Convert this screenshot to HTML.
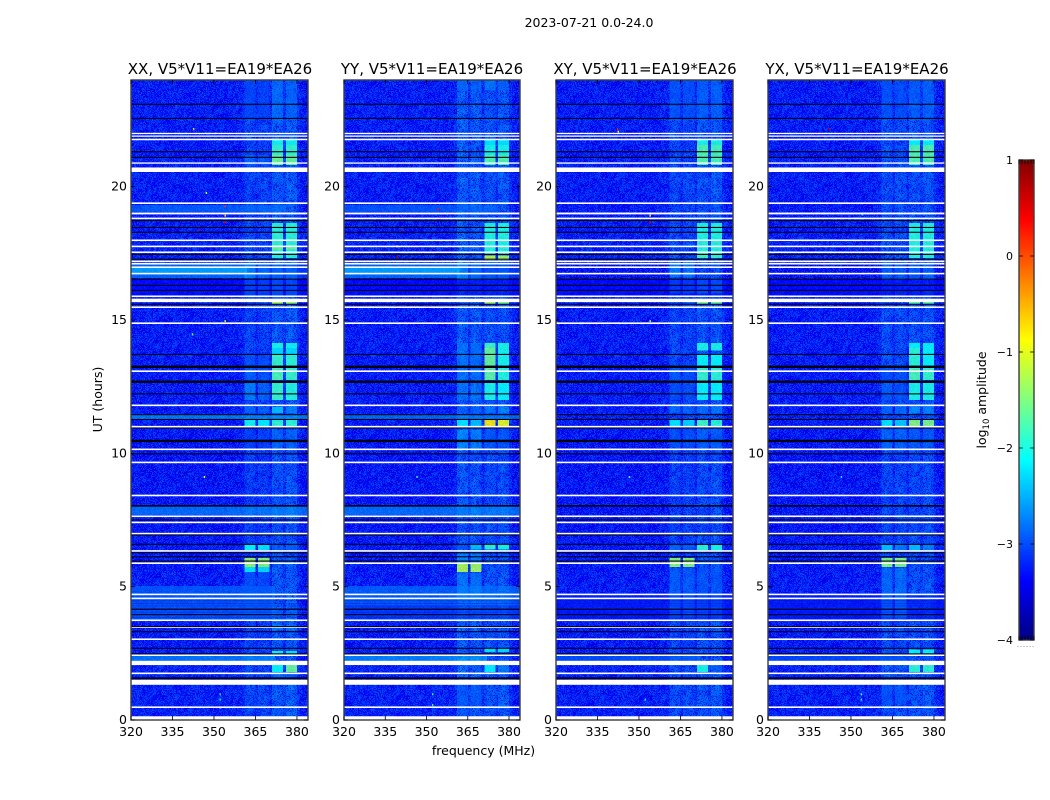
<!DOCTYPE html>
<html lang="en">
<head>
<meta charset="utf-8">
<title>2023-07-21 0.0-24.0</title>
<style>
html,body{margin:0;padding:0;background:#fff;}
svg{display:block;}
text{font-family:"DejaVu Sans","Liberation Sans",sans-serif;fill:#000;}
</style>
</head>
<body>
<svg id="figure" xmlns="http://www.w3.org/2000/svg" width="1050" height="800" viewBox="0 0 1050 800">
  <defs id="defs">
    <linearGradient id="jetGradient" x1="0" y1="1" x2="0" y2="0"></linearGradient>
    <pattern id="speckleTile" patternUnits="userSpaceOnUse" x="0" y="0" width="61" height="59"></pattern>
    <pattern id="mottleTile" patternUnits="userSpaceOnUse" x="0" y="0" width="53" height="47"></pattern>
  </defs>
  <text x="589" y="27" font-size="12.5" text-anchor="middle">2023-07-21 0.0-24.0</text>
  <text x="220" y="74" font-size="15" text-anchor="middle">XX, V5*V11=EA19*EA26</text>
  <text x="432" y="74" font-size="15" text-anchor="middle">YY, V5*V11=EA19*EA26</text>
  <text x="645" y="74" font-size="15" text-anchor="middle">XY, V5*V11=EA19*EA26</text>
  <text x="857" y="74" font-size="15" text-anchor="middle">YX, V5*V11=EA19*EA26</text>
  <g id="panel-0"></g>
  <g id="panel-1"></g>
  <g id="panel-2"></g>
  <g id="panel-3"></g>
  <text transform="translate(102,399.5) rotate(-90)" font-size="12.5" text-anchor="middle">UT (hours)</text>
  <text x="483.5" y="755" font-size="12.5" text-anchor="middle">frequency (MHz)</text>
  <g id="colorbar"></g>
  <text transform="translate(986,400) rotate(-90)" font-size="12.5" text-anchor="middle">log<tspan font-size="8.5" dy="3">10</tspan><tspan dy="-3"> amplitude</tspan></text>
</svg>
<script>
// ---- chart values ----
const freqTicks = [320, 335, 350, 365, 380];
const hourTicks = [0, 5, 10, 15, 20];
const colorbarTicks = [-4, -3, -2, -1, 0, 1];

// quiet-time spectrum, log10 amplitude per 1 MHz channel (320..383 MHz)
const spectrumXX = [-3.3,-3.3,-3.28,-3.3,-3.32,-3.3,-3.28,-3.3,-3.3,-3.3,-3.28,-3.3,-3.3,-3.32,-3.3,-3.28,-3.3,-3.3,-3.28,-3.3,-3.3,-3.32,-3.3,-3.3,-3.28,-3.3,-3.3,-3.3,-3.28,-3.3,-3.32,-3.3,-3.27,-3.3,-3.3,-3.28,-3.3,-3.28,-3.28,-3.26,-3.24,-3.05,-3.02,-3.05,-3.08,-3.2,-3.08,-3.05,-3.02,-3.08,-3.18,-2.92,-2.88,-2.92,-2.95,-3.08,-2.9,-2.86,-2.88,-2.92,-3.15,-3.28,-3.32,-3.35];
const spectrumYY = [-3.28,-3.3,-3.28,-3.3,-3.3,-3.3,-3.28,-3.3,-3.3,-3.28,-3.28,-3.3,-3.3,-3.3,-3.3,-3.28,-3.3,-3.3,-3.28,-3.3,-3.3,-3.3,-3.3,-3.3,-3.28,-3.3,-3.3,-3.3,-3.28,-3.3,-3.3,-3.3,-3.27,-3.3,-3.3,-3.28,-3.3,-3.28,-3.28,-3.26,-3.2,-2.88,-2.84,-2.88,-2.92,-3.12,-2.92,-2.88,-2.9,-2.95,-3.16,-2.98,-2.92,-2.95,-2.98,-3.1,-2.95,-2.9,-2.92,-2.96,-3.18,-3.28,-3.32,-3.35];
const spectrumXY = [-3.3,-3.3,-3.3,-3.3,-3.32,-3.3,-3.3,-3.3,-3.3,-3.3,-3.3,-3.3,-3.3,-3.32,-3.3,-3.3,-3.3,-3.3,-3.3,-3.3,-3.3,-3.32,-3.3,-3.3,-3.3,-3.3,-3.3,-3.3,-3.3,-3.3,-3.32,-3.3,-3.28,-3.3,-3.3,-3.3,-3.3,-3.28,-3.28,-3.26,-3.24,-3.02,-2.98,-3.02,-3.06,-3.2,-3.06,-3.02,-3.02,-3.06,-3.18,-2.95,-2.9,-2.95,-2.98,-3.1,-2.95,-2.9,-2.92,-2.96,-3.18,-3.28,-3.32,-3.35];
const spectrumYX = [-3.3,-3.3,-3.3,-3.3,-3.32,-3.3,-3.3,-3.3,-3.3,-3.3,-3.3,-3.3,-3.3,-3.32,-3.3,-3.3,-3.3,-3.3,-3.3,-3.3,-3.3,-3.32,-3.3,-3.3,-3.3,-3.3,-3.3,-3.3,-3.3,-3.3,-3.32,-3.3,-3.28,-3.3,-3.3,-3.3,-3.3,-3.28,-3.28,-3.26,-3.22,-2.98,-2.95,-2.98,-3.02,-3.18,-3.0,-2.96,-2.98,-3.02,-3.16,-2.98,-2.92,-2.96,-3.0,-3.1,-2.96,-2.92,-2.94,-2.98,-3.18,-3.28,-3.32,-3.35];

// broad level offset per UT hour (0..23)
const hourlyOffset = [0.03,0.05,0.0,0.0,0.02,0.0,-0.02,-0.04,-0.04,-0.05,-0.03,0.0,0.0,0.0,0.0,0.0,-0.08,0.03,0.0,0.0,0.02,0.0,0.02,0.0];

// cell-to-cell scatter table (log10 amplitude)
const scatter = [0.12,-0.08,0.2,-0.15,0.03,0.17,-0.2,0.07,-0.05,0.22,-0.12,0.01,0.15,-0.18,0.09,-0.03,0.19,-0.1,0.05,-0.22,0.14,0.0,-0.14,0.21,-0.06,0.08,-0.17,0.11,0.02,-0.09,0.18,-0.21,0.06,0.13,-0.04,-0.16,0.23,-0.07,0.1,-0.19,0.04,0.16,-0.11,-0.01,0.2,-0.13,0.07,-0.23,0.12,0.03,-0.08,0.17,-0.15,0.09,-0.02,0.21,-0.2,0.05,0.14,-0.06,-0.12,0.19,0.01,-0.17,0.11,-0.04,0.24,-0.1,0.06,-0.18,0.15,-0.03,0.08,-0.14,0.22,-0.07,0.02,-0.21,0.13,0.1,-0.16,0.18,-0.05,0.04,-0.11,0.2,-0.19,0.07,0.16,-0.09,-0.02,0.12,-0.24,0.09,0.03,-0.13,0.17];

// flagged (blank) integrations, start and end hour
const flaggedStart = [21.97,21.87,21.74,20.86,20.55,19.35,18.96,18.78,17.96,17.73,17.51,17.17,17.08,16.95,16.71,15.86,15.67,15.45,14.85,13.05,11.77,10.97,10.12,9.63,8.39,7.61,7.38,6.96,6.31,5.85,4.68,4.53,3.71,3.45,3.0,2.4,2.06,1.72,1.32,0.45];
const flaggedEnd = [22.02,21.92,21.8,20.91,20.72,19.41,19.03,18.84,18.02,17.79,17.57,17.23,17.14,17.01,16.77,15.92,15.8,15.51,14.91,13.11,11.83,11.03,10.18,9.69,8.45,7.67,7.44,7.02,6.37,5.91,4.74,4.59,3.77,3.51,3.06,2.46,2.22,1.78,1.51,0.51];

// dropped-out (black) integrations, start and end hour
const dropoutStart = [23.07,22.54,21.29,21.08,18.71,18.45,18.27,17.44,17.26,16.51,16.28,16.09,15.57,13.69,13.2,12.64,12.21,11.43,11.25,10.93,10.42,9.96,8.0,7.48,6.92,6.57,6.25,6.1,5.94,4.13,3.93,3.48,3.29,2.67,2.46,1.53];
const dropoutEnd = [23.11,22.58,21.33,21.12,18.75,18.49,18.31,17.48,17.3,16.55,16.32,16.13,15.61,13.73,13.29,12.73,12.25,11.47,11.29,10.97,10.51,10.0,8.06,7.52,6.96,6.61,6.29,6.14,5.98,4.17,3.97,3.52,3.33,2.71,2.5,1.6];

// faint darker striping inside the 4-5 hour interval
const stripeHours = [4.49,4.39,4.3,4.2,4.06,3.87];

// sub-band lower edges in MHz and their width
const subbandStart = [361,366,371,376];
const subbandWidth = 4;

// broadband interference: start hour, end hour, level, low MHz, high MHz
const washXX = [[19.05,19.31,-2.75,320,376],[16.58,17.14,-2.65,320,362],[16.76,16.99,-2.4,320,362],[16.58,17.14,-3.0,362,384],[7.69,8.03,-2.6,320,384],[11.25,11.48,-2.5,320,384],[3.75,5.03,-2.8,320,372],[2.21,2.44,-2.55,320,372],[15.9,16.5,-3.38,320,384]];
const washYY = [[19.05,19.31,-2.8,320,376],[16.58,17.14,-2.65,320,362],[16.76,16.99,-2.4,320,362],[16.58,17.14,-3.0,362,384],[7.69,8.03,-2.6,320,384],[11.25,11.48,-2.65,320,384],[4.3,5.03,-2.75,320,384],[3.75,4.3,-3.0,320,384],[2.21,2.44,-2.45,320,372],[15.9,16.5,-3.38,320,384]];
const washXY = [[3.7,4.7,-3.25,320,384],[2.21,2.44,-2.85,320,372],[15.9,16.5,-3.38,320,384]];
const washYX = [[3.7,4.7,-3.25,320,384],[2.21,2.44,-2.9,320,372],[15.9,16.5,-3.38,320,384]];

// band activity: start hour, end hour, then level in each of the four sub-bands
const activityXX = [[22.5,24,-3.0,-3.05,-2.75,-2.85],[21.56,21.75,null,null,-2.05,-2.05],[21.19,21.56,null,null,-1.85,-1.85],[20.81,21.19,-2.75,-2.8,-1.55,-1.6],[17.81,18.64,null,null,-1.9,-1.9],[17.62,17.81,null,null,-1.6,-1.65],[17.33,17.62,null,null,-1.95,-1.95],[16.58,17.14,-2.5,-2.7,-2.8,-2.8],[15.9,16.5,-2.85,-2.9,-2.8,-2.85],[15.6,15.68,null,null,-1.3,-1.35],[13.95,14.14,null,null,-2.0,-2.05],[13.69,13.95,null,null,-2.25,-2.25],[13.24,13.69,-2.95,-2.95,-1.85,-1.9],[12.75,13.24,-2.8,-2.9,-1.75,-1.85],[12.0,12.64,-2.5,-2.75,-1.85,-1.95],[11.51,11.74,-2.65,-2.8,-2.4,-2.55],[11.03,11.25,-2.05,-2.15,-1.9,-1.9],[10.13,10.88,-3.05,-3.05,-2.8,-2.8],[6.38,6.56,-2.1,-2.2,-2.9,-2.9],[5.74,6.08,-1.35,-1.4,null,null],[5.55,5.74,-2.2,-2.25,null,null],[3.75,5.55,-2.95,-3.0,null,null],[3.9,4.1,null,null,-2.7,-2.7],[3.38,3.56,null,null,-2.6,-2.7],[2.44,2.59,null,null,-2.05,-2.2],[1.8,2.06,null,null,-2.1,-1.6],[1.5,1.75,null,null,-2.8,-2.95]];
const activityYY = [[23.6,24,-2.8,-2.85,-2.6,-2.85],[21.56,21.75,null,null,-2.2,-2.2],[21.19,21.56,null,null,-2.0,-2.0],[20.81,21.19,null,null,-1.7,-1.7],[17.45,18.64,null,null,-1.95,-1.95],[17.25,17.42,null,null,-1.2,-1.3],[16.5,17.14,-2.5,-2.7,-2.9,-2.9],[15.6,15.7,null,null,-1.3,-1.5],[13.95,14.14,-2.7,-2.7,-1.8,-2.0],[13.24,13.95,-2.7,-2.7,-1.6,-2.0],[12.75,13.24,-2.7,-2.7,-1.65,-1.95],[12.0,12.64,-2.7,-2.7,-2.0,-2.1],[11.51,11.74,-2.85,-2.85,-2.55,-2.55],[11.03,11.25,-2.2,-2.4,-0.8,-0.95],[10.1,10.88,-2.5,-2.55,-2.9,-2.9],[6.4,6.58,-3.0,-2.4,-1.9,-2.0],[5.88,6.25,-2.55,-2.55,null,null],[5.55,5.88,-1.25,-1.3,null,null],[4.6,5.5,-2.7,-2.7,null,null],[2.55,2.7,null,null,-2.2,-2.25],[1.8,2.06,null,null,-2.15,-2.6],[0.5,1.3,-2.95,-2.95,null,null]];
const activityXY = [[22.5,24,-2.9,-2.95,-2.85,-2.85],[21.56,21.75,null,null,-2.0,-2.0],[20.81,21.56,null,null,-1.7,-1.75],[17.33,17.6,null,null,-1.8,-1.85],[17.6,18.64,null,null,-1.95,-1.95],[16.6,17.15,-2.45,-2.55,null,null],[16.0,16.5,-2.95,-2.95,-2.8,-2.8],[15.6,15.7,null,null,-1.5,-1.6],[13.86,14.14,null,null,-2.0,-2.0],[13.24,13.73,null,null,-2.1,-2.1],[12.7,13.24,-2.85,-2.95,-1.85,-1.9],[12.0,12.7,-2.95,-2.95,-2.1,-2.1],[11.51,11.75,-2.75,-2.75,-2.65,-2.65],[11.03,11.25,-2.2,-2.3,-1.8,-1.9],[10.1,10.9,-2.9,-2.9,-2.85,-2.85],[6.38,6.56,-2.75,-2.75,-1.9,-2.0],[5.74,6.08,-1.4,-1.4,null,null],[3.8,5.7,-2.85,-2.85,-2.95,-2.95],[1.8,2.06,null,null,-2.0,-2.9]];
const activityYX = [[22.5,24,-2.95,-3.0,-2.85,-2.85],[21.56,21.75,null,null,-2.1,-2.1],[20.81,21.56,null,null,-1.7,-1.7],[17.33,18.64,null,null,-1.95,-1.95],[16.5,17.14,-2.8,-2.85,-2.8,-2.8],[15.6,15.7,null,null,-1.7,-1.7],[13.95,14.14,null,null,-2.1,-2.1],[13.24,13.95,null,null,-1.9,-2.1],[12.75,13.24,-2.95,-2.95,-1.75,-1.85],[12.0,12.64,-2.85,-2.95,-2.0,-2.0],[11.5,11.75,-2.75,-2.75,-2.45,-2.55],[11.03,11.25,-2.2,-2.35,-1.45,-1.5],[10.1,10.9,-2.75,-2.75,-2.85,-2.85],[6.38,6.56,-2.4,-2.5,-2.4,-2.5],[5.74,6.08,-1.45,-1.45,null,null],[3.8,5.7,-2.75,-2.7,null,null],[2.5,2.65,null,null,-2.1,-2.1],[1.8,2.06,null,null,-1.9,-1.9],[0.6,1.3,-2.95,-2.95,null,null]];

// isolated hot channels: MHz, hour, level
const hotXX = [[342.4,22.2,-0.6],[353.8,19.3,0.1],[353.8,18.95,-0.8],[353.8,18.7,0.4],[347,19.8,-1.3],[344.5,18.4,0.7],[346.3,9.15,-1.0],[342,14.5,-1.7],[352,1.0,-2.1],[352,0.5,-2.1],[352,0.8,-2.2],[353.8,15.0,-1.3]];
const hotYY = [[339,17.4,0.7],[339,17.8,-0.5],[346.3,9.15,-1.9],[354,19.2,0.3],[352,1.0,-2.0],[352,0.6,-1.9],[341,18.4,0.6]];
const hotXY = [[342,22.2,0.2],[342.3,22.1,-1.0],[353.8,18.95,-0.8],[353.8,18.7,0.4],[346.3,9.15,-1.7],[353.8,15.0,-1.5],[352,0.8,-2.1]];
const hotYX = [[342,22.2,0.5],[346.3,9.15,-2.0],[353.5,0.8,-2.0],[353.5,1.0,-1.7],[353.5,0.5,-2.0],[353.8,19.0,-2.0]];

// ---- chart wiring ----
const spectra = [spectrumXX, spectrumYY, spectrumXY, spectrumYX];
const washes = [washXX, washYY, washXY, washYX];
const activities = [activityXX, activityYY, activityXY, activityYX];
const hots = [hotXX, hotYY, hotXY, hotYX];
const panelLeft = [131, 344, 556, 768];
const panelWide = [177, 176, 177, 177];
const svgNS = 'http://www.w3.org/2000/svg';
const plotTop = 80, plotBottom = 720, hourSpan = 24, freqLow = 320, freqSpan = 64;
const firstHour = 0.14, rowHours = 0.2;

function yScale(h) { return plotBottom - h / hourSpan * (plotBottom - plotTop); }
function xScale(p, f) { return panelLeft[p] + (f - freqLow) / freqSpan * panelWide[p]; }
function cbScale(v) { return 640 - (v + 4) / 5 * 480; }
function clamp(c) { return Math.max(0, Math.min(1, c)); }
function jet(level) {
  const v = (level + 4) / 5;
  const r = clamp(Math.min(4 * v - 1.5, -4 * v + 4.5));
  const g = clamp(Math.min(4 * v - 0.5, -4 * v + 3.5));
  const b = clamp(Math.min(4 * v + 0.5, -4 * v + 2.5));
  return 'rgb(' + Math.round(r * 255) + ',' + Math.round(g * 255) + ',' + Math.round(b * 255) + ')';
}
function make(tag, parent, attrs) {
  const el = document.createElementNS(svgNS, tag);
  for (const k in attrs) el.setAttribute(k, attrs[k]);
  parent.appendChild(el);
  return el;
}

// fine-grain texture tiles
const tile = document.getElementById('speckleTile');
for (let j = 0; j < 59; j++) {
  for (let i = 0; i < 61; i++) {
    const s = scatter[(i * 13 + j * 29 + i * j) % scatter.length];
    if (Math.abs(s) < 0.06) continue;
    make('rect', tile, { x: i, y: j, width: 1, height: 1, fill: s > 0 ? '#0a5cff' : '#0000c8', 'fill-opacity': Math.min(0.7, Math.abs(s) * 3) });
  }
}
const mottle = document.getElementById('mottleTile');
for (let j = 0; j < 47; j++) {
  for (let i = 0; i < 53; i++) {
    const s = scatter[(i * 19 + j * 37 + i * j * 3) % scatter.length];
    if (Math.abs(s) < 0.1) continue;
    make('rect', mottle, { x: i, y: j, width: 1, height: 1, fill: s > 0 ? '#1060ff' : '#0000a0', 'fill-opacity': s > 0 ? s * 0.7 : -s * 0.7 });
  }
}

function drawPanel(p) {
  const root = document.getElementById('panel-' + p);
  const left = panelLeft[p], wide = panelWide[p];

  const cells = make('g', root, { 'shape-rendering': 'crispEdges' });
  
  
  const spectrum = spectra[p];
  const rowCount = Math.ceil((hourSpan - firstHour) / rowHours);
  for (let r = 0; r < rowCount; r++) {
    const h0 = firstHour + r * rowHours;
    const h1 = Math.min(hourSpan, h0 + rowHours);
    const off = hourlyOffset[Math.floor(h0) % hourlyOffset.length];
    const top = yScale(h1), bottom = yScale(h0);
    for (let c = 0; c < spectrum.length; c++) {
      const level = spectrum[c] + off + scatter[(r * 31 + c * 17 + p * 7) % scatter.length] * 0.55;
      const x0 = xScale(p, freqLow + c), x1 = xScale(p, freqLow + c + 1);
      const cell = make('rect', cells, { x: x0.toFixed(2), y: top.toFixed(2), width: (x1 - x0 + 0.4).toFixed(2), height: (bottom - top + 0.4).toFixed(2), fill: jet(level) });
      
      
    }
  }

  const grain = make('rect', root, { x: left, y: plotTop, width: wide, height: yScale(firstHour) - plotTop, fill: 'url(#speckleTile)' });
  
  

  const bands = make('g', root, { 'shape-rendering': 'crispEdges' });
  
  
  washes[p].forEach(function (w) {
    const x0 = xScale(p, w[3]), x1 = xScale(p, w[4]);
    const band = make('rect', bands, { x: x0, y: yScale(w[1]), width: x1 - x0, height: yScale(w[0]) - yScale(w[1]), fill: jet(w[2]), 'fill-opacity': 0.6 });
    
    
  });
  activities[p].forEach(function (a) {
    subbandStart.forEach(function (f, s) {
      const level = a[2 + s];
      if (level === null) return;
      const x0 = xScale(p, f), x1 = xScale(p, f + subbandWidth);
      const block = make('rect', bands, { x: x0, y: yScale(a[1]), width: x1 - x0, height: yScale(a[0]) - yScale(a[1]), fill: jet(level), 'fill-opacity': level < -2.4 ? 0.5 : 0.92 });
      
      
    });
  });

  const mottling = make('rect', root, { x: left, y: plotTop, width: wide, height: yScale(firstHour) - plotTop, fill: 'url(#mottleTile)', 'fill-opacity': 0.55 });
  
  

  const lines = make('g', root, {});
  
  
  stripeHours.forEach(function (h) {
    const stripe = make('rect', lines, { x: left, y: yScale(h), width: wide, height: 1, fill: '#0008c8', 'fill-opacity': 0.35 });
    
    
  });
  hots[p].forEach(function (d) {
    const dot = make('rect', lines, { x: xScale(p, d[0]), y: yScale(d[1]), width: 1.4, height: 2, fill: jet(d[2]) });
    
    
  });
  flaggedStart.forEach(function (h, i) {
    const row = make('rect', lines, { x: left, y: yScale(flaggedEnd[i]), width: wide, height: yScale(h) - yScale(flaggedEnd[i]), fill: '#fff' });
    
    
  });
  dropoutStart.forEach(function (h, i) {
    const row = make('rect', lines, { x: left, y: yScale(dropoutEnd[i]), width: wide, height: yScale(h) - yScale(dropoutEnd[i]), fill: '#00000f' });
    
    
  });

  const blankStrip = make('rect', root, { x: left, y: yScale(firstHour), width: wide, height: plotBottom - yScale(firstHour), fill: '#fff' });
  
  

  const frame = make('rect', root, { x: left, y: plotTop, width: wide, height: plotBottom - plotTop, fill: 'none', stroke: '#3c3c3c', 'stroke-width': 1.4 });
  
  

  freqTicks.forEach(function (f) {
    const x = xScale(p, f);
    const bottomTick = make('line', root, { x1: x, x2: x, y1: plotBottom, y2: plotBottom - 4, stroke: '#000', 'stroke-width': 0.8 });
    
    
    const topTick = make('line', root, { x1: x, x2: x, y1: plotTop, y2: plotTop + 4, stroke: '#000', 'stroke-width': 0.8 });
    
    
    const label = make('text', root, { x: x, y: 736, 'font-size': 12.5, 'text-anchor': 'middle' });
    label.textContent = String(f);
    
    
  });
  hourTicks.forEach(function (h) {
    const y = yScale(h);
    const leftTick = make('line', root, { x1: left, x2: left + 4, y1: y, y2: y, stroke: '#000', 'stroke-width': 0.8 });
    
    
    const rightTick = make('line', root, { x1: left + wide, x2: left + wide - 4, y1: y, y2: y, stroke: '#000', 'stroke-width': 0.8 });
    
    
    const label = make('text', root, { x: left - 4, y: y + 4, 'font-size': 12.5, 'text-anchor': 'end' });
    label.textContent = String(h);
    
    
  });
}

function drawColorbar() {
  const bar = document.getElementById('colorbar');
  const grad = document.getElementById('jetGradient');
  for (let i = 0; i <= 40; i++) {
    make('stop', grad, { offset: i / 40, 'stop-color': jet(-4 + i / 40 * 5) });
  }
  const x0 = 1019, barWide = 15;
  const fill = make('rect', bar, { x: x0, y: cbScale(1), width: barWide, height: cbScale(-4) - cbScale(1), fill: 'url(#jetGradient)' });
  
  
  const outline = make('rect', bar, { x: x0, y: cbScale(1), width: barWide, height: cbScale(-4) - cbScale(1), fill: 'none', stroke: '#3c3c3c', 'stroke-width': 1.4 });
  
  
  colorbarTicks.forEach(function (v) {
    const y = cbScale(v);
    const a = make('line', bar, { x1: x0, x2: x0 + 4, y1: y, y2: y, stroke: '#000', 'stroke-width': 0.8 });
    
    
    const b = make('line', bar, { x1: x0 + barWide, x2: x0 + barWide - 4, y1: y, y2: y, stroke: '#000', 'stroke-width': 0.8 });
    
    
    const label = make('text', bar, { x: 1013, y: y + 4, 'font-size': 11, 'text-anchor': 'end' });
    label.textContent = (v < 0 ? '\u2212' + (-v) : String(v));
    
    
  });
  for (let i = 0; i < 6; i++) {
    const x = x0 + i * 3;
    const t1 = make('line', bar, { x1: x, x2: x, y1: cbScale(1), y2: cbScale(1) + 4, stroke: '#000', 'stroke-width': 0.7 });
    
    
    const t2 = make('line', bar, { x1: x, x2: x, y1: cbScale(-4), y2: cbScale(-4) - 4, stroke: '#000', 'stroke-width': 0.7 });
    
    
    const dot = make('rect', bar, { x: x - 1.5, y: 646, width: 1, height: 1, fill: '#999' });
    
    
  }
}

for (let p = 0; p < spectra.length; p++) drawPanel(p);
drawColorbar();
</script>
</body>
</html>
